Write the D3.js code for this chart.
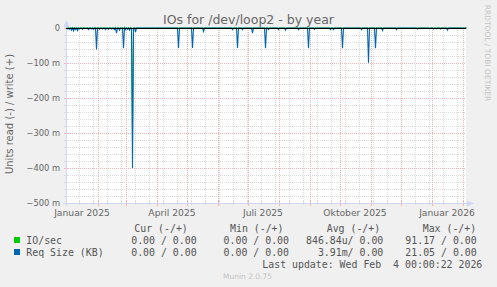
<!DOCTYPE html>
<html>
<head>
<meta charset="utf-8">
<script src="https://cdn.jsdelivr.net/npm/d3@7"></script>
<style>
  body { margin: 0; background: #f0f0f0; }
  svg { display: block; }
  text { font-family: "DejaVu Sans", sans-serif; fill: #666; }
  .mono { font-family: "DejaVu Sans Mono", monospace; font-size: 9.9px; fill: #555; }
</style>
</head>
<body>
<div id="chart"></div>
<script>
// Req Size (KB), read side, in milli-units (plotted negative). Zero days are left out.
const reqDates = [
  "2025-01-01","2025-01-03","2025-01-05","2025-01-07","2025-01-09","2025-01-11","2025-01-13",
  "2025-01-16","2025-01-19","2025-01-22","2025-01-25","2025-01-27","2025-01-30",
  "2025-02-02","2025-02-05","2025-02-08","2025-02-11","2025-02-14","2025-02-17","2025-02-19",
  "2025-02-22","2025-02-26","2025-02-28","2025-03-02","2025-03-04","2025-03-07","2025-03-10",
  "2025-04-22","2025-05-06","2025-05-17","2025-06-15","2025-06-20","2025-06-25","2025-07-05",
  "2025-07-18","2025-07-21","2025-07-31","2025-08-07","2025-08-20","2025-08-30","2025-09-05",
  "2025-09-21","2025-09-24","2025-10-03","2025-10-22","2025-10-29","2025-11-05","2025-11-12",
  "2025-11-26","2025-12-17","2025-12-29","2026-01-02","2026-01-05","2026-01-09","2026-01-16",
  "2026-01-31"
];
const reqRead = [
  3, 4, 6, 8, 5, 7, 3,
  4, 2, 5, 3, 4, 61,
  4, 3, 5, 4, 3, 5, 15,
  6, 58, 5, 4, 6, 400, 12,
  57, 57, 10, 5, 57, 5, 15,
  58, 5, 5, 6, 5, 58, 4,
  5, 5, 58, 5, 99, 58, 7,
  5, 3, 2, 3, 2, 3, 6,
  2
];
// IO/sec, read side, in milli-units
const ioDates = ["2025-03-07"];
const ioRead = [320];

const monthLabels = ["Januar 2025", "April 2025", "Juli 2025", "Oktober 2025", "Januar 2026"];
const labelDates = ["2025-01-16", "2025-04-16", "2025-07-16", "2025-10-16", "2026-01-16"];
const yTicks = [0, -0.1, -0.2, -0.3, -0.4, -0.5];

const W = 497, H = 287;
const svg = d3.select("#chart").append("svg").attr("width", W).attr("height", H);

const parse = d3.utcParse("%Y-%m-%d");
const start = parse("2024-12-31"), end = parse("2026-02-04");
const x = d3.scaleUtc().domain([start, end]).range([66, 466]);
const y = d3.scaleLinear().domain([-0.5, 0]).range([203, 28]);

const gridGray = "#dcdcdc", gridRed = "#f2b4b4";

// canvas
svg.append("rect").attr("x", 66).attr("y", 28).attr("width", 400).attr("height", 175).attr("fill", "#fff");

// fill zero days between the listed values so each value is a one-day spike
function dailySeries(dates, vals) {
  const byDay = new Map(dates.map((d, i) => [+parse(d), -vals[i] / 1000]));
  return d3.utcDay.range(start, d3.utcDay.offset(end, 1)).map(d => ({ date: d, v: byDay.get(+d) || 0 }));
}

// horizontal grid
const minorY = d3.range(0, 26).map(i => -i * 0.02);
svg.append("g").selectAll("line").data(minorY.filter(v => Math.round(v * 1000) % 100 !== 0)).join("line")
  .attr("x1", 66).attr("x2", 466)
  .attr("y1", d => Math.round(y(d)) + 0.5).attr("y2", d => Math.round(y(d)) + 0.5)
  .attr("stroke", gridGray).attr("stroke-dasharray", "1,1");
// vertical minor grid, every two weeks
const minorX = d3.range(0, 28).map(i => d3.utcDay.offset(parse("2025-01-13"), i * 14)).filter(d => d < end);
svg.append("g").selectAll("line").data(minorX).join("line")
  .attr("x1", d => Math.round(x(d)) + 0.5).attr("x2", d => Math.round(x(d)) + 0.5)
  .attr("y1", 28).attr("y2", 203)
  .attr("stroke", gridGray).attr("stroke-dasharray", "1,1");
// major grid
const months = d3.utcMonth.range(parse("2025-02-01"), end);
svg.append("g").selectAll("line").data(months).join("line")
  .attr("x1", d => Math.round(x(d)) + 0.5).attr("x2", d => Math.round(x(d)) + 0.5)
  .attr("y1", 28).attr("y2", 203)
  .attr("stroke", gridRed).attr("stroke-dasharray", "1,1");
svg.append("g").selectAll("line").data(yTicks.slice(1, 5)).join("line")
  .attr("x1", 66).attr("x2", 466)
  .attr("y1", d => Math.round(y(d)) + 0.5).attr("y2", d => Math.round(y(d)) + 0.5)
  .attr("stroke", gridRed).attr("stroke-dasharray", "1,1");

// axis ticks
svg.append("g").selectAll("line").data(minorX).join("line")
  .attr("x1", d => Math.round(x(d)) + 0.5).attr("x2", d => Math.round(x(d)) + 0.5)
  .attr("y1", 201).attr("y2", 205).attr("stroke", gridGray);
svg.append("g").selectAll("line").data(months).join("line")
  .attr("x1", d => Math.round(x(d)) + 0.5).attr("x2", d => Math.round(x(d)) + 0.5)
  .attr("y1", 200).attr("y2", 206).attr("stroke", gridRed);
svg.append("g").selectAll("line").data(minorY).join("line")
  .attr("x1", 64).attr("x2", 68)
  .attr("y1", d => Math.round(y(d)) + 0.5).attr("y2", d => Math.round(y(d)) + 0.5)
  .attr("stroke", d => Math.round(d * 1000) % 100 === 0 ? gridRed : gridGray);

// axes
svg.append("line").attr("x1", 66.5).attr("x2", 66.5).attr("y1", 24).attr("y2", 206).attr("stroke", "#cfd6f8");
svg.append("line").attr("x1", 63).attr("x2", 468).attr("y1", 203.5).attr("y2", 203.5).attr("stroke", "#cfd6f8");
svg.append("path").attr("d", "M63.5,27 L66.5,20 L69.5,27 Z").attr("fill", "#cfd6f8");
svg.append("path").attr("d", "M467,200.5 L474,203.5 L467,206.5 Z").attr("fill", "#cfd6f8");

// series
const line = d3.line().x(d => x(d.date) + 0.5).y(d => y(d.v));
svg.append("path").datum(dailySeries(ioDates, ioRead)).attr("d", line)
  .attr("fill", "none").attr("stroke", "#00cc00").attr("stroke-width", 1);
svg.append("path").datum(dailySeries(reqDates, reqRead)).attr("d", line)
  .attr("fill", "none").attr("stroke", "#0066b3").attr("stroke-width", 1.1);
svg.append("line").attr("x1", 66).attr("x2", 466).attr("y1", 28.5).attr("y2", 28.5).attr("stroke", "#000");

// y labels
svg.append("g").selectAll("text").data(yTicks).join("text")
  .attr("x", 60).attr("y", d => y(d) + 3)
  .attr("text-anchor", "end").style("font-size", "8.3px")
  .text(d => d === 0 ? "0" : d3.format(".0f")(d * 1000) + " m");
// x labels
svg.append("g").selectAll("text").data(labelDates).join("text")
  .attr("x", d => x(parse(d))).attr("y", 216)
  .attr("text-anchor", "middle").style("font-size", "9.2px")
  .text((d, i) => monthLabels[i]);

// titles
svg.append("text").attr("x", 248.5).attr("y", 24).attr("text-anchor", "middle")
  .style("font-size", "12.5px").text("IOs for /dev/loop2 - by year");
svg.append("text").attr("transform", "translate(13,114) rotate(-90)").attr("text-anchor", "middle")
  .style("font-size", "10px").text("Units read (-) / write (+)");
svg.append("text").attr("transform", "translate(485,53) rotate(90)").attr("text-anchor", "middle")
  .style("font-size", "7.5px").style("fill", "#c4c4c4").text("RRDTOOL / TOBI OETIKER");
svg.append("text").attr("x", 247.5).attr("y", 279).attr("text-anchor", "middle")
  .style("font-size", "7.5px").style("fill", "#c4c4c4").text("Munin 2.0.75");

// legend
const headers = ["Cur (-/+)", "Min (-/+)", "Avg (-/+)", "Max (-/+)"];
const headerX = [134.3, 230, 326.7, 422.7];
const seriesNames = ["IO/sec", "Req Size (KB)"];
const seriesColors = ["#00cc00", "#0066b3"];
const curVals = ["0.00 / 0.00", "0.00 / 0.00"];
const minVals = ["0.00 / 0.00", "0.00 / 0.00"];
const avgVals = ["846.84u/ 0.00", "3.91m/ 0.00"];
const maxVals = ["91.17 / 0.00", "21.05 / 0.00"];
const colEnds = [196.6, 289, 383.3, 476.7];

const leg = svg.append("g");
leg.selectAll("text.h").data(headers).join("text").attr("class", "mono h")
  .attr("x", (d, i) => headerX[i]).attr("y", 231.5).attr("xml:space", "preserve").text(d => d);
seriesNames.forEach((name, i) => {
  const ry = 243.5 + i * 12;
  leg.append("rect").attr("x", 14).attr("y", ry - 6.5).attr("width", 6).attr("height", 6).attr("fill", seriesColors[i]);
  leg.append("text").attr("class", "mono").attr("x", 26.3).attr("y", ry).text(name);
  [curVals[i], minVals[i], avgVals[i], maxVals[i]].forEach((v, j) => {
    leg.append("text").attr("class", "mono").attr("x", colEnds[j]).attr("y", ry)
      .attr("text-anchor", "end").attr("xml:space", "preserve").text(v);
  });
});
leg.append("text").attr("class", "mono").attr("x", 482.3).attr("y", 267.5)
  .attr("text-anchor", "end").attr("xml:space", "preserve").text("Last update: Wed Feb  4 00:00:22 2026");
</script>
</body>
</html>
